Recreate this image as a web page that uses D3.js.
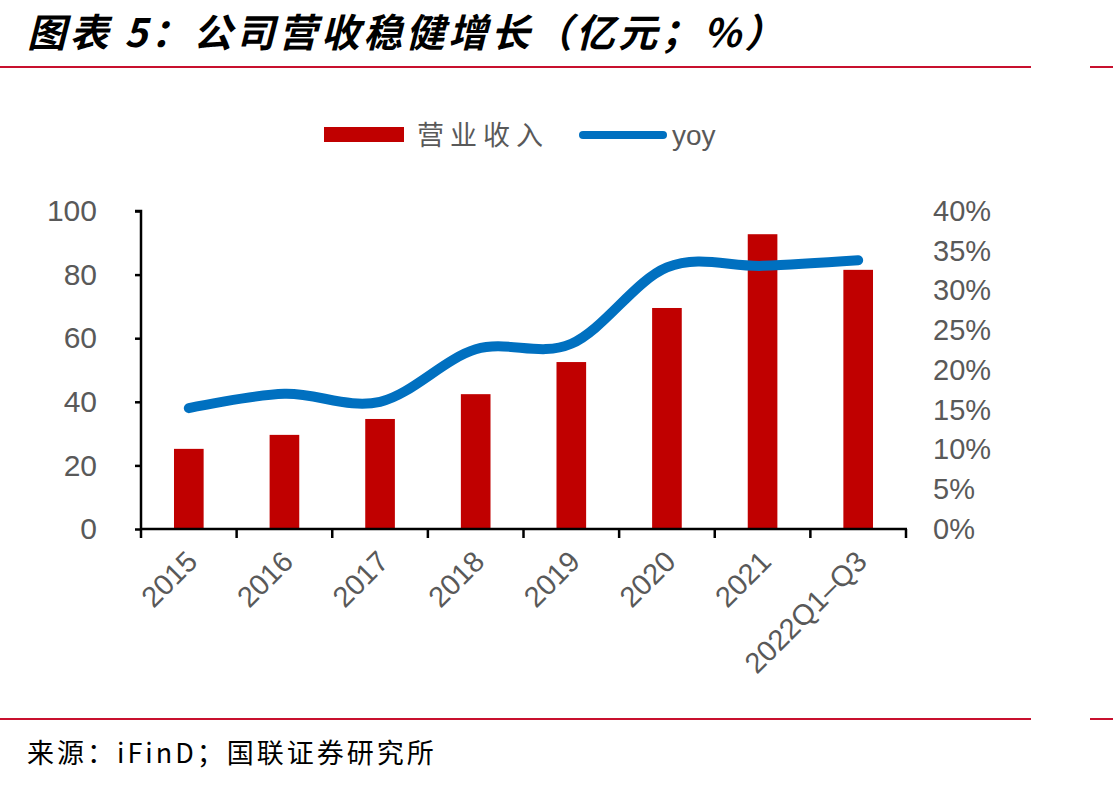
<!DOCTYPE html>
<html>
<head>
<meta charset="utf-8">
<script src="https://cdn.jsdelivr.net/npm/d3@7"></script>
<style>
  body { margin: 0; background: #fff; }
  svg { display: block; }
</style>
</head>
<body>
<div id="chart"></div>
<script>
// 데이터
const categories = ['2015', '2016', '2017', '2018', '2019', '2020', '2021', '2022Q1–Q3'];
const revenue = [25.2, 29.6, 34.6, 42.4, 52.5, 69.5, 92.7, 81.5];
const yoy = [15.2, 17.0, 16.0, 22.6, 23.3, 32.9, 33.1, 33.8];
const leftTicks = [0, 20, 40, 60, 80, 100];
const rightTicks = [0, 5, 10, 15, 20, 25, 30, 35, 40];

const W = 1113, H = 785;
const plot = { left: 141, right: 906, top: 211, bottom: 529 };
const grey = '#595959';
const barRed = '#C00000';
const lineBlue = '#0070C0';
const ruleRed = '#C8102E';
const latin = '"Liberation Sans", Arial, sans-serif';
const cjk = '"Noto Sans CJK SC", "Noto Sans", sans-serif';

const svg = d3.select('#chart').append('svg')
    .attr('width', W)
    .attr('height', H);

// 제목
svg.append('text')
    .attr('x', 27).attr('y', 47)
    .text('图表 5：公司营收稳健增长（亿元；%）')
    .style('font-family', cjk)
    .style('font-size', '39px')
    .style('font-weight', 'bold')
    .style('font-style', 'italic')
    .style('letter-spacing', '3.5px')
    .style('fill', '#000');

// 구분선
[67, 719].forEach(y => {
    svg.append('line').attr('x1', 0).attr('x2', 1031).attr('y1', y).attr('y2', y)
        .style('stroke', ruleRed).style('stroke-width', 2);
    svg.append('line').attr('x1', 1090).attr('x2', W).attr('y1', y).attr('y2', y)
        .style('stroke', ruleRed).style('stroke-width', 2);
});

// 출처
svg.append('text')
    .attr('x', 27).attr('y', 763)
    .text('来源：iFinD；国联证券研究所')
    .style('font-family', cjk)
    .style('font-size', '27px')
    .style('letter-spacing', '3px')
    .style('fill', '#000');

// 스케일
const x = d3.scaleBand().domain(categories).range([plot.left, plot.right]).paddingInner(0.69).paddingOuter(0.345);
const xOuter = d3.scaleBand().domain(categories).range([plot.left, plot.right]);
const yL = d3.scaleLinear().domain([0, 100]).range([plot.bottom, plot.top]);
const yR = d3.scaleLinear().domain([0, 40]).range([plot.bottom, plot.top]);

// 막대
svg.selectAll('.bar')
    .data(categories)
    .join('rect')
    .attr('class', 'bar')
    .attr('x', d => x(d))
    .attr('width', x.bandwidth())
    .attr('y', (d, i) => yL(revenue[i]))
    .attr('height', (d, i) => plot.bottom - yL(revenue[i]))
    .style('fill', barRed);

// 왼쪽 축
const leftAxis = svg.append('g')
    .attr('transform', `translate(${plot.left},0)`)
    .call(d3.axisLeft(yL).tickValues(leftTicks).tickSize(6).tickPadding(38));
leftAxis.select('.domain').attr('d', `M-6,${plot.top}H0V${plot.bottom}`).style('stroke', '#000').style('stroke-width', 2.5);
leftAxis.selectAll('.tick line').style('stroke', '#000').style('stroke-width', 2.5);
leftAxis.selectAll('.tick text')
    .style('font-family', latin).style('font-size', '30px').style('fill', grey);

// 오른쪽 축 (라벨만)
const rightAxis = svg.append('g')
    .attr('transform', `translate(${plot.right},0)`)
    .call(d3.axisRight(yR).tickValues(rightTicks).tickSize(0).tickPadding(27).tickFormat(d => d + '%'));
rightAxis.select('.domain').remove();
rightAxis.selectAll('.tick text')
    .style('font-family', latin).style('font-size', '29px').style('fill', grey);

// x 축
const xAxis = svg.append('g').attr('transform', `translate(0,${plot.bottom})`);
xAxis.append('line')
    .attr('x1', plot.left - 1).attr('x2', plot.right + 1)
    .style('stroke', '#000').style('stroke-width', 2.5);
const boundaries = categories.map(c => xOuter(c)).concat([plot.right]);
xAxis.selectAll('.xtick')
    .data(boundaries)
    .join('line')
    .attr('class', 'xtick')
    .attr('x1', d => d).attr('x2', d => d)
    .attr('y1', 0).attr('y2', 9)
    .style('stroke', '#000').style('stroke-width', 2.5);
xAxis.selectAll('.xlabel')
    .data(categories)
    .join('text')
    .attr('class', 'xlabel')
    .attr('transform', d => `translate(${xOuter(d) + xOuter.bandwidth() / 2 - 4},${20}) rotate(-45)`)
    .attr('text-anchor', 'end')
    .attr('dy', '0.7em')
    .text(d => d)
    .style('font-family', latin).style('font-size', '29px').style('fill', grey);

// yoy 선
const line = d3.line()
    .x((d, i) => xOuter(categories[i]) + xOuter.bandwidth() / 2)
    .y(d => yR(d))
    .curve(d3.curveCardinal.tension(0));
svg.append('path')
    .datum(yoy)
    .attr('d', line)
    .style('fill', 'none')
    .style('stroke', lineBlue)
    .style('stroke-width', 10)
    .style('stroke-linecap', 'round');

// 범례
const legend = svg.append('g');
legend.append('rect').attr('x', 324).attr('y', 127).attr('width', 80).attr('height', 15).style('fill', barRed);
legend.append('text').attr('x', 417).attr('y', 145).text('营业收入')
    .style('font-family', cjk).style('font-size', '27px').style('letter-spacing', '6px').style('fill', grey);
legend.append('line').attr('x1', 583).attr('x2', 663).attr('y1', 135).attr('y2', 135)
    .style('stroke', lineBlue).style('stroke-width', 8).style('stroke-linecap', 'round');
legend.append('text').attr('x', 672).attr('y', 145).text('yoy')
    .style('font-family', latin).style('font-size', '28px').style('fill', grey);
</script>
</body>
</html>
